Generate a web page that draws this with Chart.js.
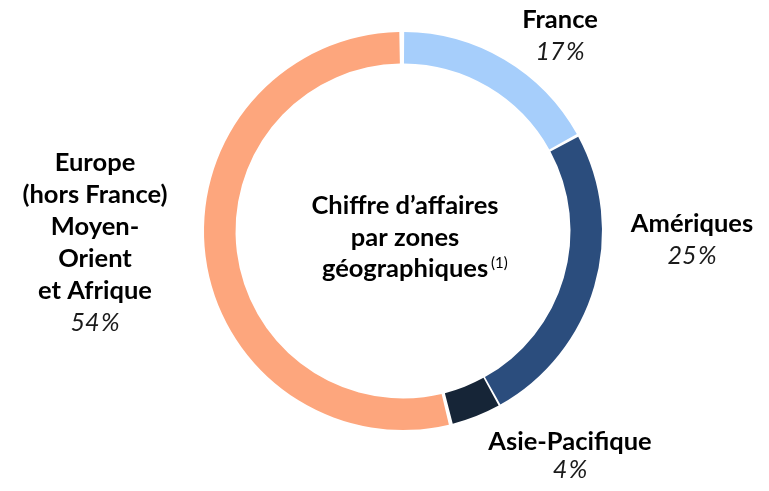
<!DOCTYPE html>
<html>
<head>
<meta charset="utf-8">
<script src="https://cdn.jsdelivr.net/npm/chart.js@4.4.0/dist/chart.umd.min.js"></script>
<style>
  html, body { margin: 0; padding: 0; background: #fff; }
  #wrap { width: 769px; height: 491px; position: relative; }
</style>
</head>
<body>
<div id="wrap"><canvas id="zonesChart"></canvas></div>
<script>
// Data
const zones = ['France', 'Amériques', 'Asie-Pacifique', 'Europe (hors France) Moyen-Orient et Afrique'];
const shares = [17, 25, 4, 54];
const zoneColors = ['#a6cefb', '#2b4d7d', '#162537', '#fda67d'];
const centerTitle = ['Chiffre d\u2019affaires', 'par zones', 'géographiques'];

// label text split into lines, and where each block sits (centre x, first line y)
const labelLines = [
    ['France'],
    ['Amériques'],
    ['Asie-Pacifique'],
    ['Europe', '(hors France)', 'Moyen-', 'Orient', 'et Afrique']
];
const labelAnchors = [
    { x: 560, y: 20 },
    { x: 692, y: 224 },
    { x: 570, y: 442 },
    { x: 95, y: 163 }
];

const FONT = 'Lato, "Open Sans", sans-serif';

const labelsPlugin = {
    id: 'zoneLabels',
    afterDraw(chart) {
        const ctx = chart.ctx;
        const arc = chart.getDatasetMeta(0).data[0];
        ctx.save();
        ctx.textAlign = 'center';
        ctx.textBaseline = 'middle';

        // outer labels
        labelLines.forEach((lines, i) => {
            const a = labelAnchors[i];
            const lh = 32;
            ctx.font = 'bold 25.5px ' + FONT;
            ctx.fillStyle = '#000';
            lines.forEach((t, j) => ctx.fillText(t, a.x, a.y + j * lh));
            ctx.font = 'italic 25px ' + FONT;
            ctx.fillStyle = '#1a1a1a';
            ctx.fillText(shares[i] + '\u200A%', a.x, a.y + lines.length * lh - (i === 2 ? 4 : 0));
        });

        // centre title
        const cx = arc.x, cy = arc.y;
        ctx.font = 'bold 25.5px ' + FONT;
        ctx.fillStyle = '#000';
        const top = cy - 25;
        centerTitle.forEach((t, j) => ctx.fillText(t, cx + 2, top + j * 31.5));
        const w = ctx.measureText(centerTitle[2]).width;
        ctx.font = '15px ' + FONT;
        ctx.textAlign = 'left';
        ctx.fillText('(1)', cx + 2 + w / 2 + 3, top + 2 * 31.5 - 6);
        ctx.restore();
    }
};

new Chart(document.getElementById('zonesChart'), {
    type: 'doughnut',
    data: {
        labels: zones,
        datasets: [{
            data: shares,
            backgroundColor: zoneColors,
            borderWidth: 0,
            spacing: 4
        }]
    },
    options: {
        responsive: true,
        maintainAspectRatio: false,
        animation: false,
        cutout: '84%',
        layout: {
            padding: { top: 32, bottom: 61, left: 203, right: 166 }
        },
        plugins: {
            legend: { display: false },
            tooltip: { enabled: false }
        }
    },
    plugins: [labelsPlugin]
});
</script>
</body>
</html>
